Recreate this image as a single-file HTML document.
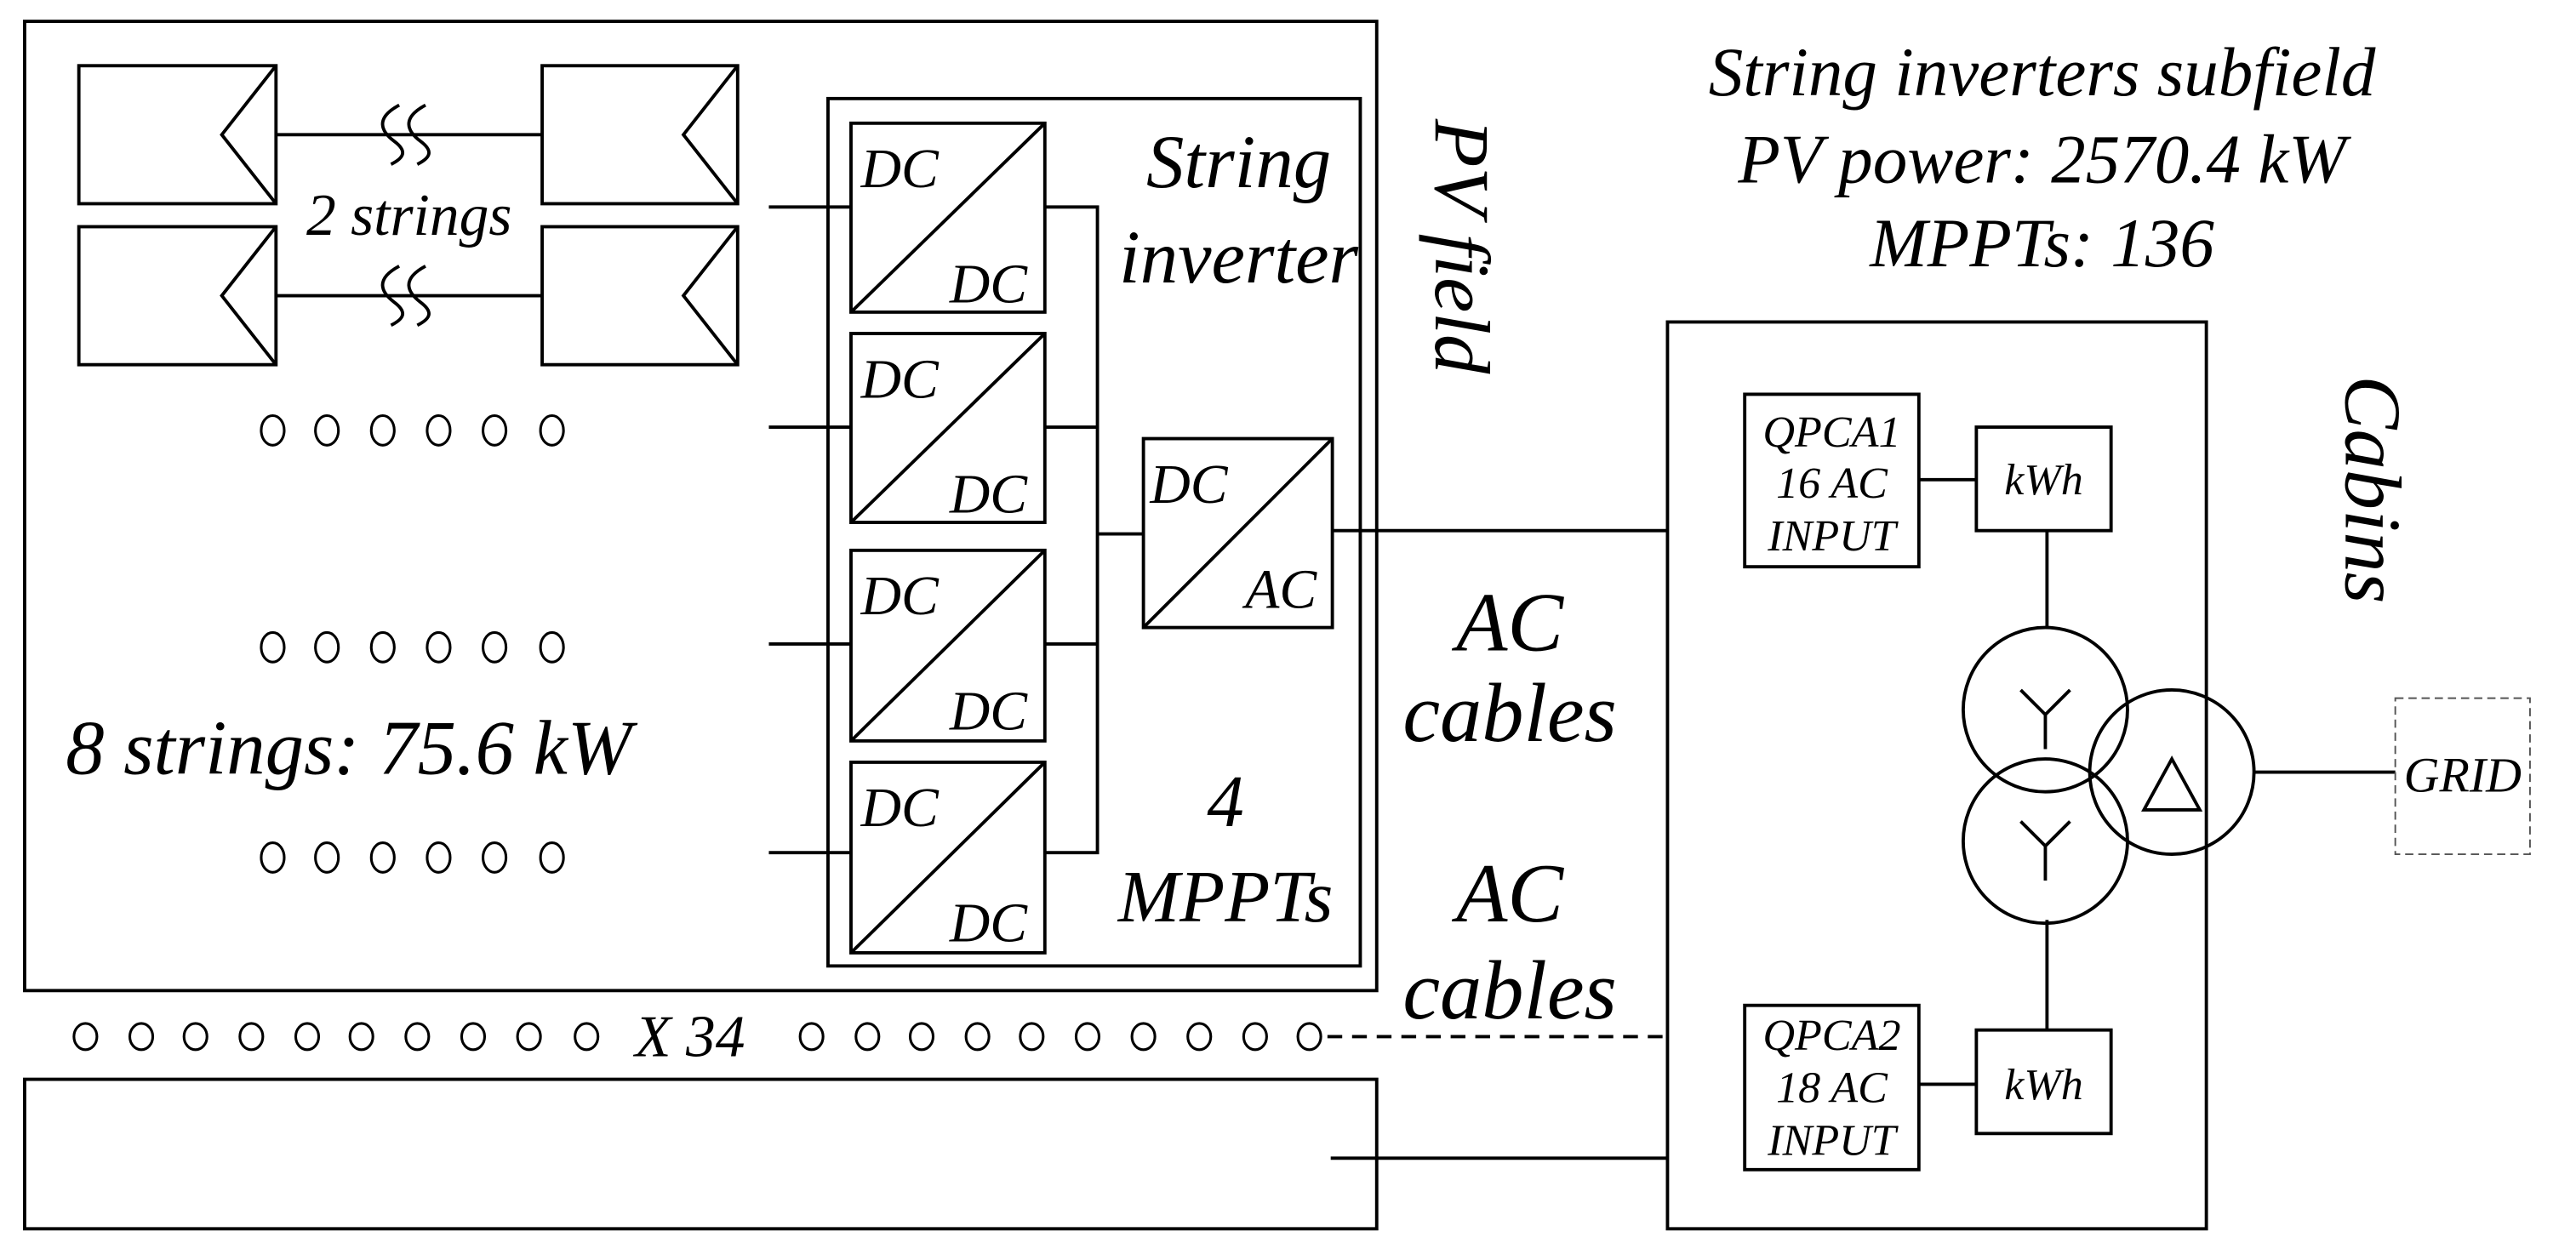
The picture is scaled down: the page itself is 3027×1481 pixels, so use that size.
<!DOCTYPE html>
<html><head><meta charset="utf-8"><style>
html,body{margin:0;padding:0;background:#fff;}
svg{display:block;}
text{font-family:"Liberation Serif",serif;font-style:italic;fill:#000;}
</style></head><body>
<svg width="3027" height="1481" viewBox="0 0 1568 767" preserveAspectRatio="none" xmlns="http://www.w3.org/2000/svg">
<g fill="none" stroke="#000" stroke-width="2">
<rect x="15" y="13" width="823" height="590"/>
<rect x="48" y="40" width="120" height="84"/><path d="M168 40 L135 82 L168 124"/>
<rect x="330" y="40" width="119" height="84"/><path d="M449 40 L416 82 L449 124"/>
<rect x="48" y="138" width="120" height="84"/><path d="M168 138 L135 180 L168 222"/>
<rect x="330" y="138" width="119" height="84"/><path d="M449 138 L416 180 L449 222"/>
<line x1="168" y1="82" x2="330" y2="82"/>
<line x1="168" y1="180" x2="330" y2="180"/>
<path d="M243 64 C228 72 232 80 240 86 C248 92 246 96 238 100"/>
<path d="M259 64 C244 72 248 80 256 86 C264 92 262 96 254 100"/>
<path d="M243 162 C228 170 232 178 240 184 C248 190 246 194 238 198"/>
<path d="M259 162 C244 170 248 178 256 184 C264 190 262 194 254 198"/>
<rect x="504" y="60" width="324" height="528"/>
<rect x="518" y="75" width="118" height="115"/><line x1="518" y1="190" x2="636" y2="75"/>
<rect x="518" y="203" width="118" height="115"/><line x1="518" y1="318" x2="636" y2="203"/>
<rect x="518" y="335" width="118" height="116"/><line x1="518" y1="451" x2="636" y2="335"/>
<rect x="518" y="464" width="118" height="116"/><line x1="518" y1="580" x2="636" y2="464"/>
<line x1="468" y1="126" x2="518" y2="126"/>
<line x1="468" y1="260" x2="518" y2="260"/>
<line x1="468" y1="392" x2="518" y2="392"/>
<line x1="468" y1="519" x2="518" y2="519"/>
<path d="M636 126 H668 V519 H636"/>
<line x1="636" y1="260" x2="668" y2="260"/>
<line x1="636" y1="392" x2="668" y2="392"/>
<line x1="668" y1="325" x2="696" y2="325"/>
<rect x="696" y="267" width="115" height="115"/><line x1="696" y1="382" x2="811" y2="267"/>
<line x1="811" y1="323" x2="1015" y2="323"/>
<rect x="15" y="657" width="823" height="91"/>
<line x1="810" y1="705" x2="1015" y2="705"/>
<line x1="808" y1="631" x2="1015" y2="631" stroke-dasharray="9,6"/>
<rect x="1015" y="196" width="328" height="552"/>
<rect x="1062" y="240" width="106" height="105"/>
<rect x="1203" y="260" width="82" height="63"/>
<line x1="1168" y1="292" x2="1203" y2="292"/>
<line x1="1246" y1="323" x2="1246" y2="382"/>
<rect x="1062" y="612" width="106" height="100"/>
<rect x="1203" y="627" width="82" height="63"/>
<line x1="1168" y1="660" x2="1203" y2="660"/>
<line x1="1246" y1="560" x2="1246" y2="627"/>
<circle cx="1245" cy="432" r="50"/>
<circle cx="1245" cy="512" r="50"/>
<circle cx="1322" cy="470" r="50"/>
<path d="M1230 420 L1245 435 L1260 420 M1245 435 V456"/>
<path d="M1230 500 L1245 515 L1260 500 M1245 515 V536"/>
<path d="M1305 493 L1322 462 L1339 493 Z"/>
<line x1="1372" y1="470" x2="1458" y2="470"/>
<rect x="1458" y="425" width="82" height="95" stroke-width="1" stroke="#555" stroke-dasharray="5,3"/>
<g stroke-width="1.6">
<ellipse cx="166" cy="262" rx="7" ry="9"/><ellipse cx="199" cy="262" rx="7" ry="9"/><ellipse cx="233" cy="262" rx="7" ry="9"/><ellipse cx="267" cy="262" rx="7" ry="9"/><ellipse cx="301" cy="262" rx="7" ry="9"/><ellipse cx="336" cy="262" rx="7" ry="9"/>
<ellipse cx="166" cy="394" rx="7" ry="9"/><ellipse cx="199" cy="394" rx="7" ry="9"/><ellipse cx="233" cy="394" rx="7" ry="9"/><ellipse cx="267" cy="394" rx="7" ry="9"/><ellipse cx="301" cy="394" rx="7" ry="9"/><ellipse cx="336" cy="394" rx="7" ry="9"/>
<ellipse cx="166" cy="522" rx="7" ry="9"/><ellipse cx="199" cy="522" rx="7" ry="9"/><ellipse cx="233" cy="522" rx="7" ry="9"/><ellipse cx="267" cy="522" rx="7" ry="9"/><ellipse cx="301" cy="522" rx="7" ry="9"/><ellipse cx="336" cy="522" rx="7" ry="9"/>
<ellipse cx="52" cy="631" rx="7" ry="8"/><ellipse cx="86" cy="631" rx="7" ry="8"/><ellipse cx="119" cy="631" rx="7" ry="8"/><ellipse cx="153" cy="631" rx="7" ry="8"/><ellipse cx="187" cy="631" rx="7" ry="8"/><ellipse cx="220" cy="631" rx="7" ry="8"/><ellipse cx="254" cy="631" rx="7" ry="8"/><ellipse cx="288" cy="631" rx="7" ry="8"/><ellipse cx="322" cy="631" rx="7" ry="8"/><ellipse cx="357" cy="631" rx="7" ry="8"/>
<ellipse cx="494" cy="631" rx="7" ry="8"/><ellipse cx="528" cy="631" rx="7" ry="8"/><ellipse cx="561" cy="631" rx="7" ry="8"/><ellipse cx="595" cy="631" rx="7" ry="8"/><ellipse cx="628" cy="631" rx="7" ry="8"/><ellipse cx="662" cy="631" rx="7" ry="8"/><ellipse cx="696" cy="631" rx="7" ry="8"/><ellipse cx="730" cy="631" rx="7" ry="8"/><ellipse cx="764" cy="631" rx="7" ry="8"/><ellipse cx="797" cy="631" rx="7" ry="8"/>
</g>
</g>
<text x="249" y="143" font-size="36" text-anchor="middle">2 strings</text>
<text x="40" y="471" font-size="47">8 strings: 75.6 kW</text>
<g font-size="34">
<text x="524" y="114">DC</text><text x="578" y="184">DC</text>
<text x="524" y="242">DC</text><text x="578" y="312">DC</text>
<text x="524" y="374">DC</text><text x="578" y="444">DC</text>
<text x="524" y="503">DC</text><text x="578" y="573">DC</text>
<text x="700" y="306">DC</text><text x="758" y="370">AC</text>
</g>
<text x="754" y="114" font-size="46" text-anchor="middle">String</text>
<text x="754" y="172" font-size="46" text-anchor="middle">inverter</text>
<text x="746" y="503" font-size="45" text-anchor="middle">4</text>
<text x="746" y="561" font-size="45" text-anchor="middle">MPPTs</text>
<text transform="translate(874,150) rotate(90)" font-size="48" text-anchor="middle">PV field</text>
<text x="919" y="396" font-size="51" text-anchor="middle">AC</text>
<text x="919" y="451" font-size="51" text-anchor="middle">cables</text>
<text x="919" y="561" font-size="51" text-anchor="middle">AC</text>
<text x="919" y="620" font-size="51" text-anchor="middle">cables</text>
<text x="420" y="643" font-size="36" text-anchor="middle">X 34</text>
<text x="1243" y="58" font-size="42" text-anchor="middle">String inverters subfield</text>
<text x="1243" y="111" font-size="42" text-anchor="middle">PV power: 2570.4 kW</text>
<text x="1243" y="162" font-size="42" text-anchor="middle">MPPTs: 136</text>
<text transform="translate(1428,298) rotate(90)" font-size="49" text-anchor="middle">Cabins</text>
<g font-size="27" text-anchor="middle">
<text x="1115" y="272">QPCA1</text><text x="1115" y="303">16 AC</text><text x="1115" y="335">INPUT</text>
<text x="1115" y="639">QPCA2</text><text x="1115" y="671">18 AC</text><text x="1115" y="703">INPUT</text>
<text x="1244" y="301">kWh</text><text x="1244" y="669">kWh</text>
</g>
<text x="1499" y="482" font-size="30" text-anchor="middle">GRID</text>
</svg>
</body></html>
